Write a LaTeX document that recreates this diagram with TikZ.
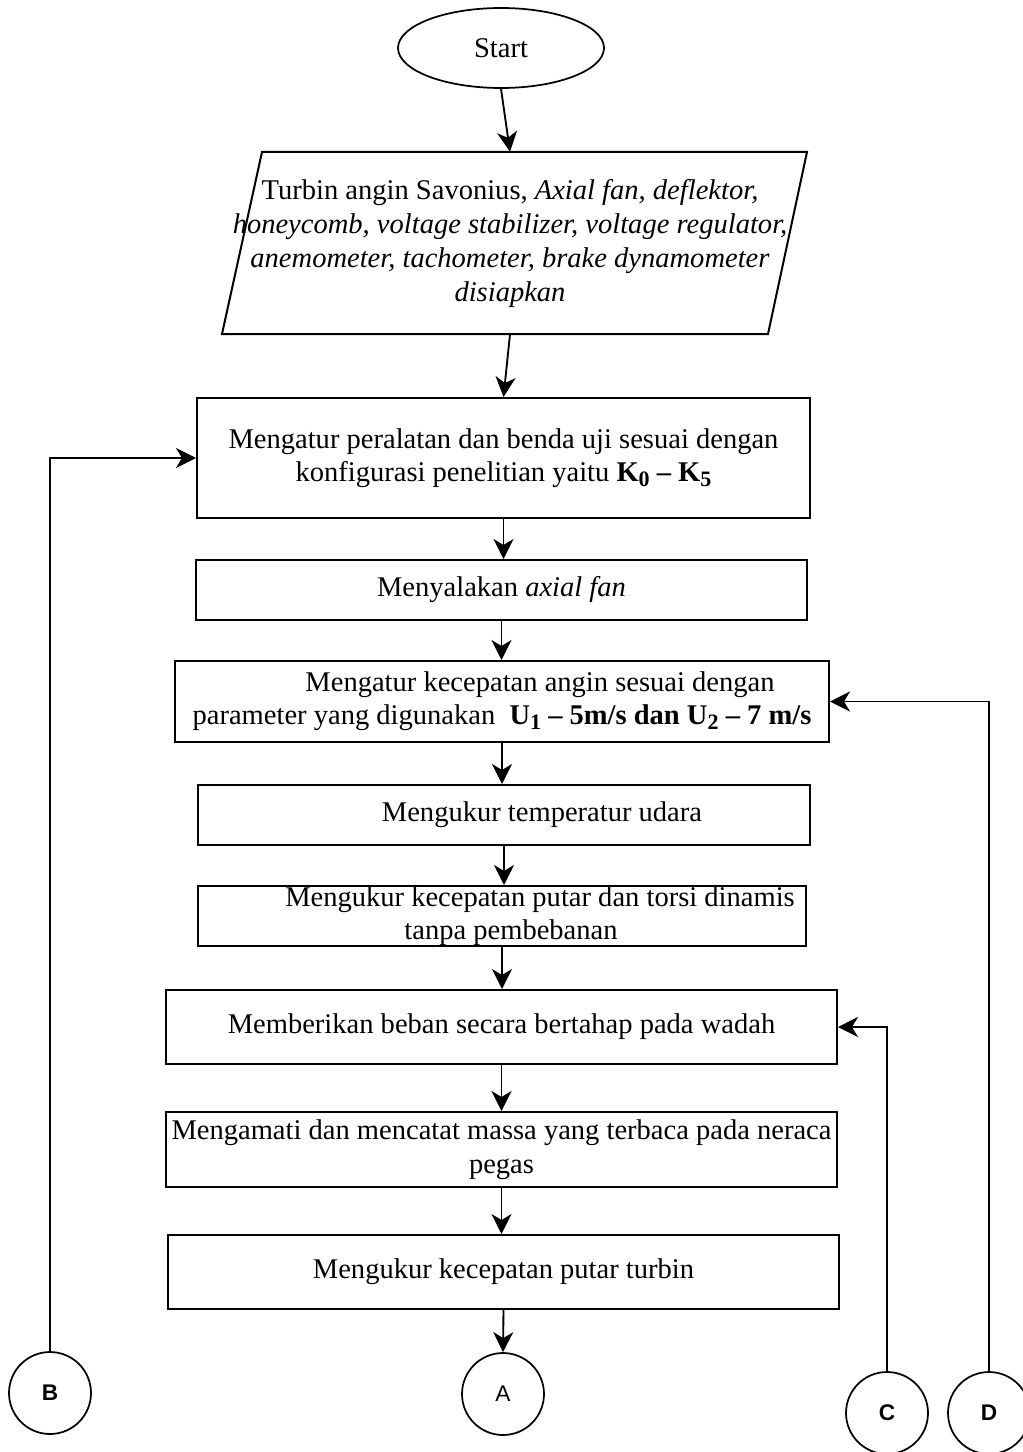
\documentclass[tikz,border=0pt]{standalone}
\usepackage{fontspec}
\setmainfont{Liberation Serif}
\newfontfamily\labelfont{Liberation Sans}
\usetikzlibrary{arrows.meta,shapes.geometric}
\newcommand{\lsub}[1]{\raisebox{-0.35ex}{\fontsize{16.5}{16.5}\selectfont #1}}
\begin{document}
\begin{tikzpicture}[x=0.75pt,y=-0.75pt,
  every node/.style={font=\fontsize{21.4}{25}\selectfont},
  proc/.style={draw, line width=1.5pt, rectangle, inner sep=0pt, align=center},
  conn/.style={draw, circle, line width=1.3pt, minimum size=61.5pt, inner sep=0pt, font=\labelfont\fontsize{17}{17}\selectfont},
  arr/.style={line width=1.4pt, -{Stealth[length=15pt,width=15pt,inset=4.5pt]}},
  plain/.style={line width=1.5pt}]
\useasboundingbox (0,0) rectangle (1022,1452);

\node[draw, ellipse, line width=1.3pt, minimum width=154.5pt, minimum height=60pt, inner sep=0pt] (start) at (501,48) {Start};

\draw[plain] (262,152) -- (807,152) -- (768,334) -- (222,334) -- cycle;
\node[minimum width=438.75pt, minimum height=136.5pt, inner sep=0pt, align=center, font=\fontsize{21.4}{25.5}\selectfont] (para) at (510,243)
  {Turbin angin Savonius, \textit{Axial fan, deflektor,}\\
   \textit{honeycomb, voltage stabilizer, voltage regulator,}\\
   \textit{anemometer, tachometer, brake dynamometer}\\
   \textit{disiapkan}};

\node[proc, minimum width=459.75pt, minimum height=90pt] (box1) at (503.5,458)
  {Mengatur peralatan dan benda uji sesuai dengan\\
   konfigurasi penelitian yaitu \textbf{K\lsub{0} – K\lsub{5}}};
\node[proc, minimum width=458.25pt, minimum height=45pt] (box2) at (501.5,590)
  {Menyalakan \textit{axial fan}};
\node[proc, minimum width=490.5pt, minimum height=60.75pt] (box3) at (502,701.5)
  {\hspace*{57pt}Mengatur kecepatan angin sesuai dengan\\
   parameter yang digunakan\ \ \textbf{U\lsub{1} – 5m/s dan U\lsub{2} – 7 m/s}};
\node[proc, minimum width=459pt, minimum height=45pt] (box4) at (504,815)
  {\hspace*{57pt}Mengukur temperatur udara};
\node[proc, minimum width=456pt, minimum height=45pt] (box5) at (502,916)
  {\hspace*{57pt}Mengukur kecepatan putar dan torsi dinamis\\
   \hspace*{13.5pt}tanpa pembebanan};
\node[proc, minimum width=503.25pt, minimum height=55.5pt] (box6) at (501.5,1027)
  {Memberikan beban secara bertahap pada wadah};
\node[proc, minimum width=503.25pt, minimum height=56.25pt] (box7) at (501.5,1149.5)
  {Mengamati dan mencatat massa yang terbaca pada neraca\\ pegas};
\node[proc, minimum width=503.25pt, minimum height=55.5pt] (box8) at (503.5,1272)
  {Mengukur kecepatan putar turbin};

\node[conn, font=\labelfont\bfseries\fontsize{17}{17}\selectfont] (B) at (50,1393) {B};
\node[conn] (A) at (503,1394) {A};
\node[conn, font=\labelfont\bfseries\fontsize{17}{17}\selectfont] (C) at (887,1413) {C};
\node[conn, font=\labelfont\bfseries\fontsize{17}{17}\selectfont] (D) at (989,1413) {D};

\draw[arr] (start.south) -- (para.north);
\draw[arr] (para.south) -- (box1.north);
\draw[arr] (box1.south) -- (box1.south |- box2.north);
\draw[arr] (box2.south) -- (box2.south |- box3.north);
\draw[arr] (box3.south) -- (box3.south |- box4.north);
\draw[arr] (box4.south) -- (box4.south |- box5.north);
\draw[arr] (box5.south) -- (box5.south |- box6.north);
\draw[arr] (box6.south) -- (box6.south |- box7.north);
\draw[arr] (box7.south) -- (box7.south |- box8.north);
\draw[arr] (box8.south) -- (A.north);

\draw[arr] (B.north) |- (box1.west);
\draw[arr] (C.north) |- (box6.east);
\draw[arr] (D.north) |- (box3.east);
\end{tikzpicture}
\end{document}
